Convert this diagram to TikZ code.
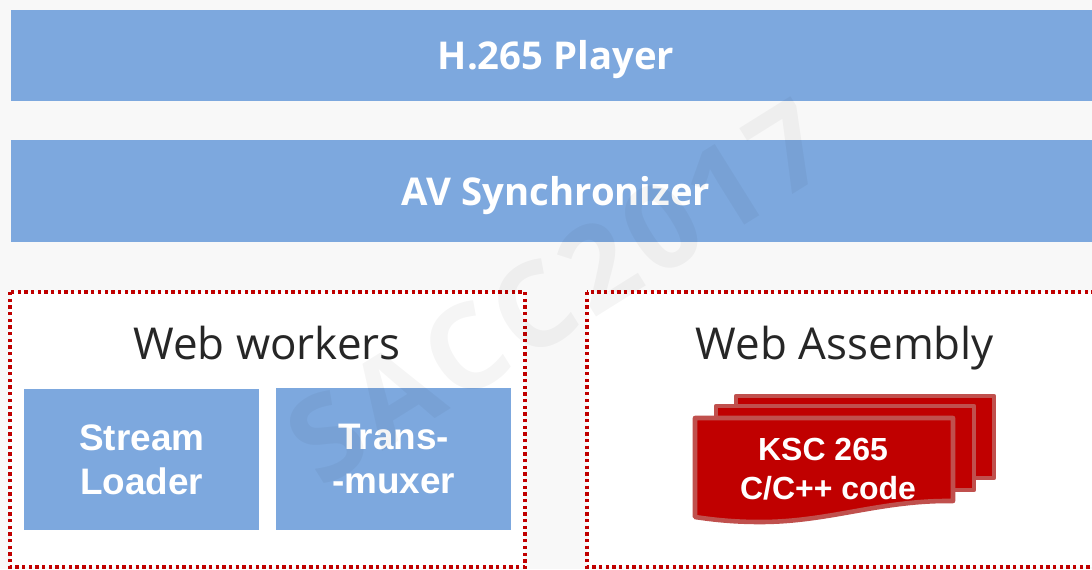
\documentclass[tikz,border=0pt]{standalone}
\usepackage{fontspec}
\setmainfont{Open Sans}
\newfontfamily\armfont{Liberation Sans}
\definecolor{barblue}{HTML}{7DA8DE}
\definecolor{pagegray}{HTML}{F8F8F8}
\definecolor{codered}{HTML}{C00000}
\definecolor{coderim}{HTML}{C0504D}
\tikzset{
    bar/.style={fill=barblue,minimum width=21.8cm,inner sep=0},
    bartext/.style={text=white,anchor=base,inner sep=0,font=\fontsize{21.8}{22}\selectfont\bfseries},
    workbox/.style={fill=barblue,text=white,minimum width=4.7cm,inner sep=0,align=center,font=\armfont\fontsize{21}{25}\selectfont\bfseries},
    group/.style={draw=codered,fill=white,line width=2pt,dash pattern=on 1.9pt off 1.9pt},
    grouptitle/.style={text=black!85,anchor=base,inner sep=0,font=\fontsize{25}{25}\selectfont},
    sheet/.style={draw=coderim,fill=codered,line width=2.6pt,line join=round}
}
\begin{document}
\begin{tikzpicture}[x=0.02cm,y=-0.02cm]
    \useasboundingbox[fill=pagegray] (0,0) rectangle (1092,569);
    \begin{scope}
        \clip (0,0) rectangle (1092,569);

        % Bars
        \node[bar,anchor=north west,minimum height=1.82cm] (player) at (11,10) {};
        \node[bar,anchor=north west,minimum height=2.04cm] (sync) at (11,140) {};
        \node[bartext] (playertext) at (556,69) {H.265 Player};
        \node[bartext] (synctext) at (556,205) {AV Synchronizer};

        % Web workers
        \draw[group] (10,292) rectangle (525,567);
        \node[grouptitle] (workers) at (267,359) {Web workers};
        \node[workbox,anchor=north west,minimum height=2.82cm] (loader) at (24,389) {Stream\\Loader};
        \node[workbox,anchor=north west,minimum height=2.84cm] (muxer) at (276,388) {Trans-\\-muxer};

        % Web Assembly
        \draw[group] (587,292) rectangle (1110,567);
        \node[grouptitle] (assembly) at (845,359) {Web Assembly};
        \draw[sheet] (736,396) -- (994,396) -- (994,478) -- (736,478) -- cycle;
        \draw[sheet] (716,406) -- (974,406) -- (974,490) -- (716,490) -- cycle;
        \draw[sheet] (695,418) -- (953,418) -- (953,501)
            .. controls (880,500) and (830,522) .. (760,522)
            .. controls (735,522) and (715,520) .. (695,517) -- cycle;
        \node[text=white,align=center,inner sep=0,font=\armfont\fontsize{18.2}{22}\selectfont\bfseries] (code) at (828,469) {KSC 265\hspace*{5.7pt}\\C/C++ code};

        % Watermark
        \node[rotate=32,opacity=0.04,text=black,inner sep=0,font=\fontsize{67}{67}\selectfont\bfseries\addfontfeature{LetterSpace=6}] (mark) at (558,292) {SACC2017};
    \end{scope}
\end{tikzpicture}
\end{document}
